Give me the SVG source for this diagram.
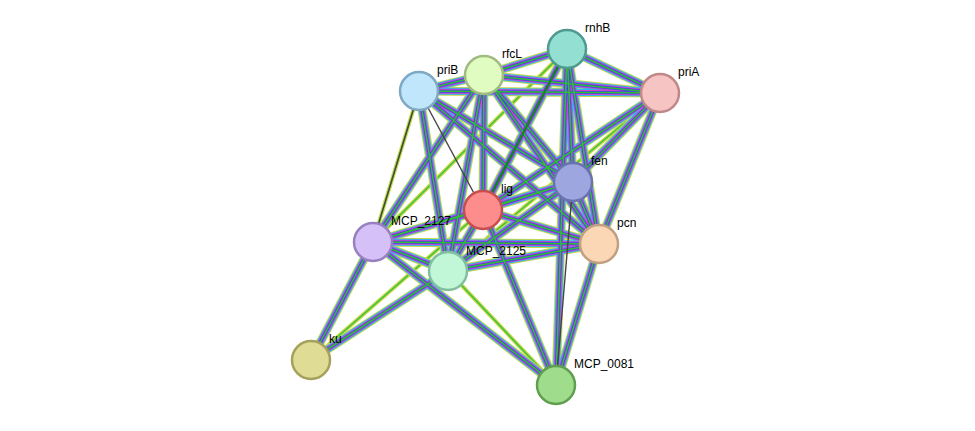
<svg xmlns="http://www.w3.org/2000/svg" width="975" height="431" viewBox="0 0 975 431">
<style>
.n circle{stroke-width:2.5}
.n text{font-family:"Liberation Sans",Arial,sans-serif;font-size:12px;fill:#000}
.e path{fill:none}
</style>
<defs>
<path id="S" d="M419,91L484,75M419,91L660,93M484,75L567,49M484,75L660,93M567,49L660,93M484,75L483,210M484,75L573,182M483,210L573,182M483,210L599,244M573,182L599,244M483,210L373,242M483,210L448,271M373,242L448,271M373,242L599,244M448,271L599,244M483,210L556,385M599,244L556,385M567,49L483,210M419,91L573,182M419,91L599,244M419,91L448,271M484,75L373,242M567,49L573,182M567,49L599,244M660,93L599,244M660,93L483,210M448,271L311,360M373,242L311,360M373,242L556,385M448,271L573,182M373,242L573,182M484,75L599,244M484,75L448,271M660,93L573,182M567,49L556,385"/>
<path id="W" d="M419,91L567,49M419,91L373,242M567,49L448,271M660,93L448,271M311,360L483,210M448,271L556,385M567,49L373,242"/>
</defs>
<g id="connectors" class="e">
<use href="#W" stroke="#c8d84a" stroke-width="4"/>
<use href="#W" stroke="#3cc43c" stroke-width="1.5"/>
<use href="#S" stroke="#c8d84a" stroke-width="9"/>
<use href="#S" stroke="#33b4ef" stroke-width="7"/>
<use href="#S" stroke="#cc44cc" stroke-width="5"/>
<use href="#S" stroke="#4444ee" stroke-width="3.2"/>
<use href="#S" stroke="#33bb33" stroke-width="1.6"/>
<path d="M419,91L483,210M573,182L556,385M419,91L373,242" stroke="#444" stroke-width="1.4"/>
<path d="M567,49L483,210" stroke="#118811" stroke-width="2"/>
</g>
<g id="priB" class="n"><circle cx="419" cy="91" r="19" fill="#bfe6fb" stroke="#7fa8c4"/><text x="437" y="74">priB</text></g>
<g id="rfcL" class="n"><circle cx="484" cy="75" r="19" fill="#e0fcc0" stroke="#a0bc80"/><text x="502" y="58">rfcL</text></g>
<g id="rnhB" class="n"><circle cx="567" cy="49" r="19" fill="#93dfd2" stroke="#4f9a8f"/><text x="585" y="32">rnhB</text></g>
<g id="priA" class="n"><circle cx="660" cy="93" r="19" fill="#f7c4c4" stroke="#c08888"/><text x="678" y="76">priA</text></g>
<g id="fen" class="n"><circle cx="573" cy="182" r="19" fill="#9ea6e0" stroke="#6a72b0"/><text x="591" y="165">fen</text></g>
<g id="lig" class="n"><circle cx="483" cy="210" r="19" fill="#fd8d8d" stroke="#c84e4e"/><text x="501" y="193">lig</text></g>
<g id="pcn" class="n"><circle cx="599" cy="244" r="19" fill="#fbd7b5" stroke="#c0a080"/><text x="617" y="227">pcn</text></g>
<g id="MCP_2127" class="n"><circle cx="373" cy="242" r="19" fill="#d5c0f7" stroke="#9880c0"/><text x="391" y="225">MCP_2127</text></g>
<g id="MCP_2125" class="n"><circle cx="448" cy="271" r="19" fill="#c1f7d7" stroke="#80c0a0"/><text x="466" y="255">MCP_2125</text></g>
<g id="ku" class="n"><circle cx="311" cy="360" r="19" fill="#dfdc95" stroke="#a5a05a"/><text x="329" y="343">ku</text></g>
<g id="MCP_0081" class="n"><circle cx="556" cy="385" r="19" fill="#9fdd8d" stroke="#5f9f4f"/><text x="574" y="368">MCP_0081</text></g>
</svg>
